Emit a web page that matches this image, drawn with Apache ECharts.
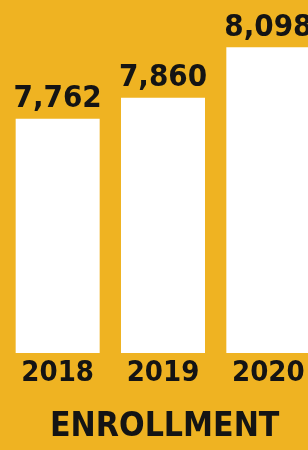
<!DOCTYPE html>
<html>
<head>
<meta charset="utf-8">
<style>
  html, body { margin: 0; padding: 0; background: #efb322; }
  #chart { width: 308px; height: 450px; }
</style>
<script src="https://cdn.jsdelivr.net/npm/echarts@6/dist/echarts.min.js"></script>
</head>
<body>
<div id="chart"></div>
<script>
// enrollment by year
var years = ['2018', '2019', '2020'];
var enrollment = [7762, 7860, 8098];
var titleText = 'ENROLLMENT';

var font = '"DejaVu Sans Condensed", "Liberation Sans Narrow", sans-serif';

var myChart = echarts.init(document.getElementById('chart'));
var option = {
    backgroundColor: '#efb322',
    title: {
        text: titleText,
        left: 45,
        top: 405,
        textStyle: { fontFamily: font, fontWeight: 'bold', fontSize: 33.5, color: '#141414' }
    },
    grid: { left: 5, top: 0, width: 316, bottom: 97, outerBoundsMode: 'none' },
    xAxis: {
        type: 'category',
        data: years,
        axisLine: { show: false },
        axisTick: { show: false },
        axisLabel: {
            interval: 0,
            margin: 6,
            fontFamily: font, fontWeight: 'bold', fontSize: 29, color: '#141414'
        }
    },
    yAxis: {
        type: 'value',
        min: 6660,
        max: 8320,
        show: false,
        splitLine: { show: false }
    },
    series: [{
        type: 'bar',
        data: enrollment,
        barWidth: 84,
        itemStyle: { color: '#ffffff' },
        label: {
            show: true,
            position: 'top',
            distance: 4,
            fontFamily: font, fontWeight: 'bold', fontSize: 31, color: '#141414',
            formatter: function (p) { return p.value.toLocaleString('en-US'); }
        },
        labelLayout: { hideOverlap: false }
    }]
};
myChart.setOption(option);
</script>
</body>
</html>
